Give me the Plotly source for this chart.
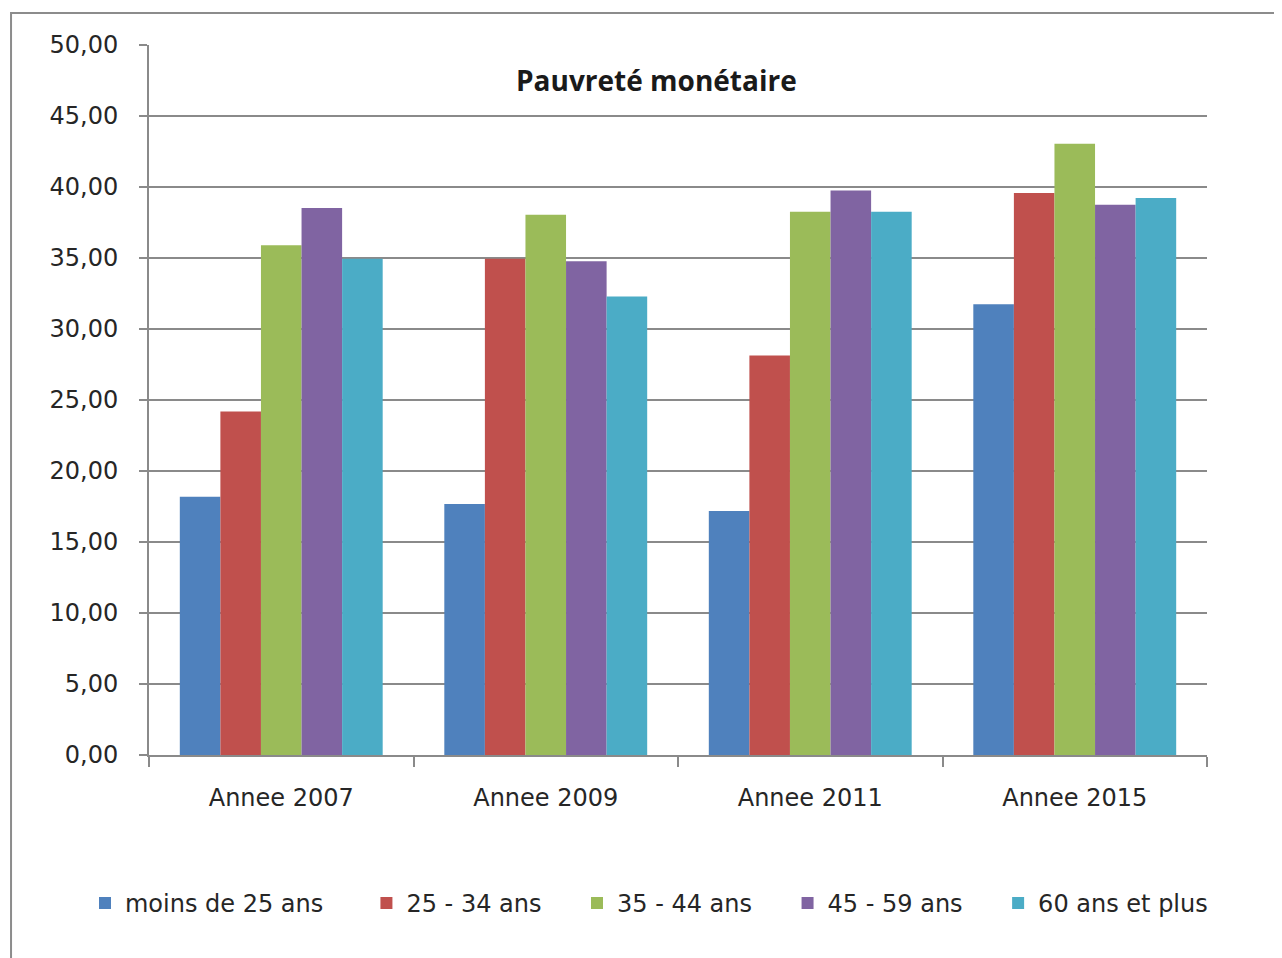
import plotly.graph_objects as go

categories = ["Annee 2007", "Annee 2009", "Annee 2011", "Annee 2015"]
series_names = ["moins de 25 ans", "25 - 34 ans", "35 - 44 ans", "45 - 59 ans", "60 ans et plus"]
moins_25 = [18.18, 17.68, 17.19, 31.75]
age_25_34 = [24.19, 34.95, 28.13, 39.58]
age_35_44 = [35.89, 38.05, 38.25, 43.05]
age_45_59 = [38.52, 34.77, 39.76, 38.75]
age_60_plus = [34.95, 32.28, 38.25, 39.22]
y_ticks = [0, 5, 10, 15, 20, 25, 30, 35, 40, 45, 50]
y_tick_labels = ["0,00", "5,00", "10,00", "15,00", "20,00", "25,00",
                 "30,00", "35,00", "40,00", "45,00", "50,00"]

colors = ["#4F81BD", "#C0504D", "#9BBB59", "#8064A2", "#4BACC6"]
values = [moins_25, age_25_34, age_35_44, age_45_59, age_60_plus]
# extra space after each legend entry, like the wider spacing in the original
legend_pad = ["\u00a0" * 5, "\u00a0" * 4, "\u00a0" * 4, "\u00a0" * 4, ""]

FONT = "DejaVu Sans"
GRID = "#8a8a8a"

fig = go.Figure()
for name, vals, col, pad in zip(series_names, values, colors, legend_pad):
    fig.add_trace(go.Bar(
        x=categories, y=vals, name=name + pad,
        marker=dict(color=col, line=dict(width=0)),
    ))

# page body has an 8px margin, so the figure is shifted by 8px
fig.update_layout(
    width=1274, height=950,
    margin=dict(l=141, r=75, t=37, b=202.5),
    paper_bgcolor="white", plot_bgcolor="white",
    barmode="group", bargap=0.233, bargroupgap=0,
    font=dict(family=FONT, size=24, color="#262626"),
    # x < 0 with left anchor lets the legend be wider than the plot area
    legend=dict(
        orientation="h", x=-0.0605, xanchor="left", y=-0.209, yanchor="middle",
        font=dict(family=FONT, size=24, color="#262626"),
    ),
    annotations=[dict(
        text="<b>Pauvreté monétaire</b>", x=0.48, y=0.951,
        xref="paper", yref="paper", xanchor="center", yanchor="middle",
        showarrow=False,
        font=dict(family="Open Sans", size=28, color="#1a1a1a"),
    )],
    shapes=[dict(
        type="rect", xref="paper", yref="paper",
        x0=-0.1304, x1=1.0784, y0=-0.302, y1=1.045,
        line=dict(color="#8c8c8c", width=2), layer="below",
    )],
)

fig.update_xaxes(
    showline=True, linecolor=GRID, linewidth=2,
    ticks="outside", tickson="boundaries", ticklen=10, tickcolor=GRID, tickwidth=2,
    showgrid=False,
    tickfont=dict(family=FONT, size=24, color="#262626"),
    ticklabelstandoff=20,
)
fig.update_yaxes(
    range=[0, 50], tickvals=y_ticks, ticktext=y_tick_labels,
    showline=True, linecolor=GRID, linewidth=2,
    ticks="outside", ticklen=8, tickcolor=GRID, tickwidth=2,
    showgrid=True, gridcolor=GRID, gridwidth=2,
    zeroline=False,
    tickfont=dict(family=FONT, size=24, color="#262626"),
    ticklabelstandoff=16,
)

fig.write_html("out.html")
